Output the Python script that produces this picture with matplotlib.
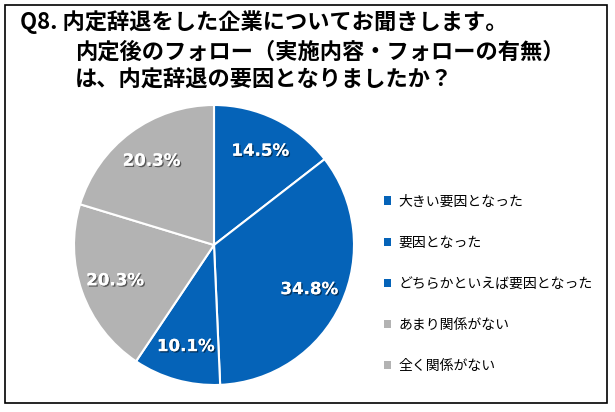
import matplotlib
matplotlib.use("Agg")
import matplotlib.pyplot as plt
import matplotlib.patheffects as pe
from matplotlib.patches import Rectangle

plt.rcParams['font.family'] = ['Noto Sans CJK JP', 'DejaVu Sans']

# data
labels = ["大きい要因となった", "要因となった", "どちらかといえば要因となった",
          "あまり関係がない", "全く関係がない"]
values = [14.5, 34.8, 10.1, 20.3, 20.3]
BLUE = "#0563B8"
GRAY = "#B3B3B3"
colors = [BLUE, BLUE, BLUE, GRAY, GRAY]

title_lines = ["Q8. 内定辞退をした企業についてお聞きします。",
               "内定後のフォロー（実施内容・フォローの有無）",
               "は、内定辞退の要因となりましたか？"]

W, H = 615, 412
fig = plt.figure(figsize=(W / 100, H / 100), dpi=100)

# outer frame
fig.patches.append(Rectangle((5 / W, 9 / H), 602 / W, 398 / H,
                             transform=fig.transFigure, fill=False,
                             edgecolor="black", linewidth=1.2))

# title, three lines
fig.text(20 / W, 1 - 22 / H, title_lines[0], fontsize=16, fontweight="bold",
         va="center", ha="left")
for i, line in enumerate(title_lines[1:]):
    fig.text(75 / W, 1 - (52 + 28.5 * i) / H, line, fontsize=16,
             fontweight="bold", va="center", ha="left")

# pie centred at (214, 245) px, radius 140 px
cx, cy, r = 214, 245, 140
ax = fig.add_axes([(cx - r) / W, 1 - (cy + r) / H, 2 * r / W, 2 * r / H])
wedges, _, autotexts = ax.pie(
    values, colors=colors, startangle=90, counterclock=False,
    autopct=lambda p: f"{p:.1f}%", pctdistance=0.75,
    wedgeprops=dict(edgecolor="white", linewidth=1.5),
    textprops=dict(color="white", fontsize=12, fontweight="bold",
                   family="DejaVu Sans"))
for t in autotexts:
    t.set_path_effects([pe.withSimplePatchShadow(offset=(1, -1), alpha=0.5,
                                                 shadow_rgbFace="black"),
                        pe.Normal()])
ax.set_xlim(-1, 1)
ax.set_ylim(-1, 1)
ax.set_aspect("equal")

leg = fig.legend(wedges, labels, loc="upper left",
                 bbox_to_anchor=(378 / W, 1 - 189 / H), frameon=False,
                 fontsize=10, handlelength=0.55, handleheight=0.55,
                 handletextpad=0.5, labelspacing=1.95, borderaxespad=0)
for h in leg.legend_handles:
    h.set_edgecolor("none")

fig.savefig("out.png", dpi=100)
